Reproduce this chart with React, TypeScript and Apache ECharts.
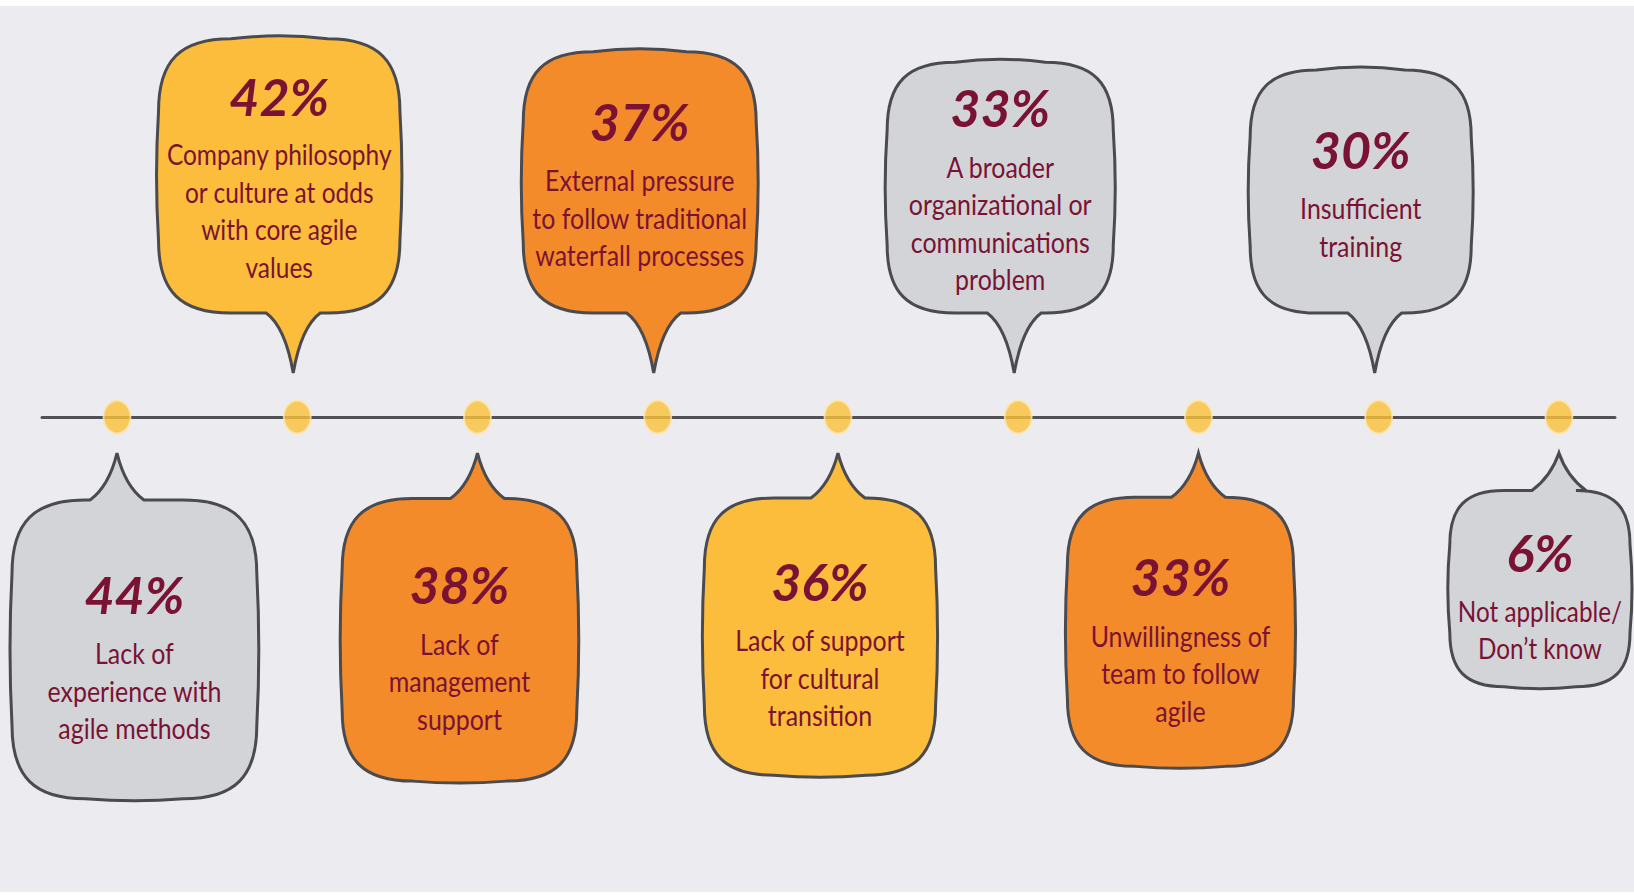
import React, { useEffect, useRef } from "react";
import * as echarts from "echarts";

// ---- data ----
const categories: string[] = [
  "Lack of\nexperience with\nagile methods",
  "Company philosophy\nor culture at odds\nwith core agile\nvalues",
  "Lack of\nmanagement\nsupport",
  "External pressure\nto follow traditional\nwaterfall processes",
  "Lack of support\nfor cultural\ntransition",
  "A broader\norganizational or\ncommunications\nproblem",
  "Unwillingness of\nteam to follow\nagile",
  "Insufficient\ntraining",
  "Not applicable/\nDon’t know",
];
const values: number[] = [44, 42, 38, 37, 36, 33, 33, 30, 6];

// ---- styles ----
const bubbleColors: string[] = [
  "#d3d4d8",
  "#fbbd3b",
  "#f38b2b",
  "#f38b2b",
  "#fbbd3b",
  "#d3d4d8",
  "#f38b2b",
  "#d3d4d8",
  "#d3d4d8",
];
const TEXT_COLOR = "#7a1234";
const STROKE = "#4a4a4f";
const LABEL_FONT = "Lato, 'Open Sans', sans-serif";
const PCT_FONT = "Lato, 'Open Sans', sans-serif";
const LABEL_SIZE = 29;
const LINE_H = 37.5;

let measureCtx: CanvasRenderingContext2D | null = null;
function textWidth(s: string, size: number, family: string, weight = "normal"): number {
  if (!measureCtx) {
    const c = document.createElement("canvas");
    measureCtx = c.getContext("2d");
  }
  if (!measureCtx) return s.length * size * 0.5;
  measureCtx.font = `${weight} ${size}px ${family}`;
  return measureCtx.measureText(s).width;
}

function bubblePath(
  x0: number, y0: number, x1: number, y1: number,
  r: number, tipX: number, tipY: number, tailUp: boolean
): string {
  const k = 0.3;
  const tb = 27;
  const bulge = 4;
  const midX = (x0 + x1) / 2;
  const midY = (y0 + y1) / 2;
  const p: string[] = [];
  p.push(`M ${x0 + r} ${y0}`);
  if (tailUp) {
    p.push(`L ${tipX - tb} ${y0}`);
    p.push(`Q ${tipX - 8} ${y0 - 14} ${tipX} ${tipY}`);
    p.push(`Q ${tipX + 8} ${y0 - 14} ${tipX + tb} ${y0}`);
    p.push(`L ${x1 - r} ${y0}`);
  } else {
    p.push(`Q ${midX} ${y0 - bulge * 1.5} ${x1 - r} ${y0}`);
  }
  p.push(`C ${x1 - r * k} ${y0} ${x1} ${y0 + r * k} ${x1} ${y0 + r}`);
  p.push(`Q ${x1 + bulge} ${midY} ${x1} ${y1 - r}`);
  p.push(`C ${x1} ${y1 - r * k} ${x1 - r * k} ${y1} ${x1 - r} ${y1}`);
  if (!tailUp) {
    p.push(`L ${tipX + tb} ${y1}`);
    p.push(`Q ${tipX + 8} ${y1 + 14} ${tipX} ${tipY}`);
    p.push(`Q ${tipX - 8} ${y1 + 14} ${tipX - tb} ${y1}`);
    p.push(`L ${x0 + r} ${y1}`);
  } else {
    p.push(`Q ${midX} ${y1 + bulge} ${x0 + r} ${y1}`);
  }
  p.push(`C ${x0 + r * k} ${y1} ${x0} ${y1 - r * k} ${x0} ${y1 - r}`);
  p.push(`Q ${x0 - bulge} ${midY} ${x0} ${y0 + r}`);
  p.push(`C ${x0} ${y0 + r * k} ${x0 + r * k} ${y0} ${x0 + r} ${y0}`);
  p.push("Z");
  return p.join(" ");
}

function renderBubble(params: any, api: any) {
  const i = params.dataIndex;
  const v = api.value(2);
  const [px, py] = api.coord([api.value(0), api.value(1)]);
  const W = api.getWidth();
  const below = i % 2 === 0;
  const w = 170 + 1.7 * v;
  const h = below ? 180 + 2.7 * v : 165 + 2.6 * v;
  let cx = px - 18;
  cx = Math.max(cx, w / 2 + 12);
  cx = Math.min(cx, W - w / 2 - 4);
  let tipX: number, tipY: number, y0: number, y1: number;
  const tail = 36 + v * 0.25;
  if (below) {
    tipX = px;
    tipY = py + 36;
    y0 = tipY + tail;
    y1 = y0 + h;
  } else {
    tipX = px - 4;
    tipY = py - 44;
    y1 = tipY - 60;
    y0 = y1 - h;
  }
  const x0 = cx - w / 2;
  const x1 = cx + w / 2;
  const r = Math.min(w, h) * 0.3;

  const lines = categories[i].split("\n");
  const maxW = Math.max(...lines.map((l) => textWidth(l, LABEL_SIZE, LABEL_FONT)));
  const sx = Math.min(0.86, (w - 16) / maxW);
  const n = lines.length;
  const blockH = 59 + (n - 1) * LINE_H + 45;
  const cy = (y0 + y1) / 2 + (below ? 8 : 2);
  const top = cy - blockH / 2;
  const pctY = top + 26;
  const firstLabelY = pctY + 59;

  return {
    type: "group",
    children: [
      {
        type: "path",
        shape: { pathData: bubblePath(x0, y0, x1, y1, r, tipX, tipY, below) },
        style: { fill: bubbleColors[i], stroke: STROKE, lineWidth: 3 },
      },
      {
        type: "text",
        x: cx,
        y: pctY,
        style: {
          text: `${v}%`,
          x: 0,
          y: 0,
          align: "center",
          verticalAlign: "middle",
          fill: TEXT_COLOR,
          fontSize: 52,
          fontWeight: "bold",
          fontStyle: "italic",
          fontFamily: PCT_FONT,
        },
      },
      {
        type: "text",
        x: cx,
        y: firstLabelY - LINE_H / 2,
        scaleX: sx,
        style: {
          text: categories[i],
          x: 0,
          y: 0,
          align: "center",
          verticalAlign: "top",
          fill: TEXT_COLOR,
          fontSize: LABEL_SIZE,
          lineHeight: LINE_H,
          fontFamily: LABEL_FONT,
        },
      },
    ],
  };
}

export default function App() {
  const ref = useRef<HTMLDivElement>(null);
  useEffect(() => {
    document.body.style.margin = "0";
    if (!ref.current) return;
    const chart = echarts.init(ref.current, null, { renderer: "svg", width: 1634, height: 886 });
    chart.setOption({
      animation: false,
      backgroundColor: "#ececf0",
      grid: { left: 42, right: 19, top: 0, bottom: 0 },
      xAxis: {
        type: "value",
        min: -0.416,
        max: 8.311,
        axisLine: { show: true, onZero: true, lineStyle: { color: "#505055", width: 3 } },
        axisTick: { show: false },
        axisLabel: { show: false },
        splitLine: { show: false },
      },
      yAxis: {
        type: "value",
        min: -1.1556,
        max: 1,
        show: false,
        splitLine: { show: false },
      },
      series: [
        {
          type: "scatter",
          data: values.map((_, i) => [i, 0]),
          symbol: "circle",
          symbolSize: [27, 33],
          itemStyle: { color: "#fbc23a", borderColor: "#fbe6b4", borderWidth: 2 },
          z: 3,
        },
        {
          type: "custom",
          coordinateSystem: "cartesian2d",
          data: values.map((v, i) => [i, 0, v]),
          encode: { x: 0, y: 1 },
          renderItem: renderBubble,
          clip: false,
          z: 4,
        },
      ],
    });
    return () => chart.dispose();
  }, []);
  return (
    <div style={{ width: 1634, height: 895, background: "#ffffff", paddingTop: 6, boxSizing: "border-box" }}>
      <div ref={ref} style={{ width: 1634, height: 886 }} />
    </div>
  );
}
